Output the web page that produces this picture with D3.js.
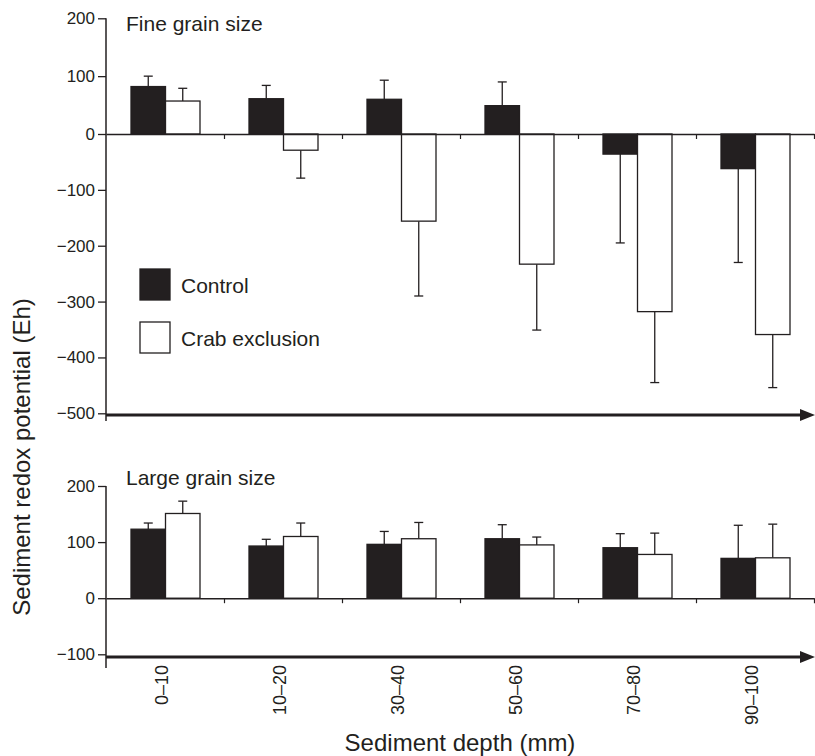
<!DOCTYPE html>
<html>
<head>
<meta charset="utf-8">
<script src="https://cdn.jsdelivr.net/npm/d3@7"></script>
<style>
  body { margin: 0; background: #fff; }
  svg { display: block; font-family: "Liberation Sans", Arial, sans-serif; }
</style>
</head>
<body>
<script>
// depth classes (mm)
const categories = ["0–10", "10–20", "30–40", "50–60", "70–80", "90–100"];
const seriesNames = ["Control", "Crab exclusion"];

// fine grain panel, Eh values and one-sided error bars
const fineControl    = [82, 61, 60, 49, -36, -62];
const fineControlErr = [18, 23, 33, 41, 159, 168];
const fineCrab       = [57, -29, -156, -233, -318, -359];
const fineCrabErr    = [22, 50, 134, 118, 127, 95];

// large grain panel
const largeControl    = [123, 93, 96, 106, 90, 71];
const largeControlErr = [11, 12, 23, 25, 25, 59];
const largeCrab       = [151, 110, 106, 95, 78, 72];
const largeCrabErr    = [22, 24, 29, 14, 38, 60];

const fineTicks  = [200, 100, 0, -100, -200, -300, -400, -500];
const largeTicks = [200, 100, 0, -100];

const W = 815, H = 756;
const ink = "#231f20";
const left = 106, right = 814;

const svg = d3.select("body").append("svg")
    .attr("width", W).attr("height", H);

// category bands share the same x across both panels
const x0 = d3.scaleBand().domain(categories).range([left, right]);
const x1 = d3.scaleBand().domain(seriesNames).range([25, 94]);
const xIdx = d3.scaleLinear().domain([0, categories.length]).range([left, right]);

function panel(opts) {
  const { y, ticks, control, controlErr, crab, crabErr, title, titleY, axisBottom, arrowY } = opts;
  const g = svg.append("g");

  // y axis
  const ax = g.append("g")
      .attr("transform", `translate(${left},0)`)
      .call(d3.axisLeft(y).tickValues(ticks).tickSize(8).tickPadding(3).tickSizeOuter(0));
  ax.select(".domain").remove();
  ax.selectAll(".tick line").attr("stroke", ink).attr("stroke-width", 1.3);
  ax.selectAll(".tick text").attr("fill", ink).attr("font-size", 17)
      .attr("font-family", "Liberation Sans, Arial, sans-serif");
  g.append("line")
      .attr("x1", left).attr("x2", left)
      .attr("y1", y(ticks[0])).attr("y2", axisBottom)
      .attr("stroke", ink).attr("stroke-width", 1.5);

  // bars
  const rows = categories.map((c, i) => [
    { cat: c, key: "Control", v: control[i], e: controlErr[i] },
    { cat: c, key: "Crab exclusion", v: crab[i], e: crabErr[i] }
  ]).flat();

  const bw = x1.bandwidth();
  // error bars first (drawn behind the bars)
  const eb = g.append("g").attr("stroke", ink).attr("stroke-width", 1.3);
  rows.forEach(d => {
    const cx = x0(d.cat) + x1(d.key) + bw / 2;
    const tip = d.v >= 0 ? d.v + d.e : d.v - d.e;
    eb.append("line").attr("x1", cx).attr("x2", cx).attr("y1", y(d.v)).attr("y2", y(tip));
    eb.append("line").attr("x1", cx - 4.5).attr("x2", cx + 4.5).attr("y1", y(tip)).attr("y2", y(tip));
  });

  g.append("g").selectAll("rect").data(rows).join("rect")
      .attr("x", d => x0(d.cat) + x1(d.key))
      .attr("width", bw)
      .attr("y", d => y(Math.max(0, d.v)))
      .attr("height", d => Math.abs(y(d.v) - y(0)))
      .attr("fill", d => d.key === "Control" ? ink : "#fff")
      .attr("stroke", ink)
      .attr("stroke-width", 1.3);

  // zero line with category boundary ticks
  const zx = g.append("g")
      .attr("transform", `translate(0,${y(0)})`)
      .call(d3.axisBottom(xIdx).tickValues(d3.range(1, categories.length + 1))
        .tickSize(5).tickSizeOuter(0).tickFormat(""));
  zx.select(".domain").attr("stroke", ink).attr("stroke-width", 1.5);
  zx.selectAll(".tick line").attr("stroke", ink).attr("stroke-width", 1.2);

  // arrow axis
  g.append("line")
      .attr("x1", left).attr("x2", 802)
      .attr("y1", arrowY).attr("y2", arrowY)
      .attr("stroke", ink).attr("stroke-width", 3);
  g.append("path")
      .attr("d", `M800,${arrowY - 6}L815,${arrowY}L800,${arrowY + 6}Z`)
      .attr("fill", ink);

  // panel title
  g.append("text")
      .attr("x", 126).attr("y", titleY)
      .attr("font-size", 21).attr("fill", ink)
      .text(title);
}

const yFine = d3.scaleLinear().domain([-500, 0, 200]).range([413.3, 134, 18.3]);
const yLarge = d3.scaleLinear().domain([-100, 200]).range([654.3, 486]);

panel({
  y: yFine, ticks: fineTicks,
  control: fineControl, controlErr: fineControlErr,
  crab: fineCrab, crabErr: fineCrabErr,
  title: "Fine grain size", titleY: 31, axisBottom: 421, arrowY: 415
});

panel({
  y: yLarge, ticks: largeTicks,
  control: largeControl, controlErr: largeControlErr,
  crab: largeCrab, crabErr: largeCrabErr,
  title: "Large grain size", titleY: 485, axisBottom: 668, arrowY: 657
});

// legend
const legend = svg.append("g");
seriesNames.forEach((s, i) => {
  const ly = 269 + i * 53;
  legend.append("rect")
      .attr("x", 140).attr("y", ly).attr("width", 30).attr("height", 31)
      .attr("fill", i === 0 ? ink : "#fff")
      .attr("stroke", ink).attr("stroke-width", 1.3);
  legend.append("text")
      .attr("x", 181).attr("y", ly + 24)
      .attr("font-size", 21).attr("fill", ink)
      .text(s);
});

// x tick labels (rotated)
svg.append("g").selectAll("text").data(categories).join("text")
    .attr("transform", d => `translate(${x0(d) + x0.bandwidth() / 2 - 3},665) rotate(-90)`)
    .attr("text-anchor", "end")
    .attr("dy", "0.35em")
    .attr("font-size", 18).attr("fill", ink)
    .text(d => d);

// axis titles
svg.append("text")
    .attr("x", 460).attr("y", 751)
    .attr("text-anchor", "middle")
    .attr("font-size", 24).attr("fill", ink)
    .text("Sediment depth (mm)");

svg.append("text")
    .attr("transform", "translate(30,457) rotate(-90)")
    .attr("text-anchor", "middle")
    .attr("font-size", 24).attr("fill", ink)
    .text("Sediment redox potential (Eh)");
</script>
</body>
</html>
